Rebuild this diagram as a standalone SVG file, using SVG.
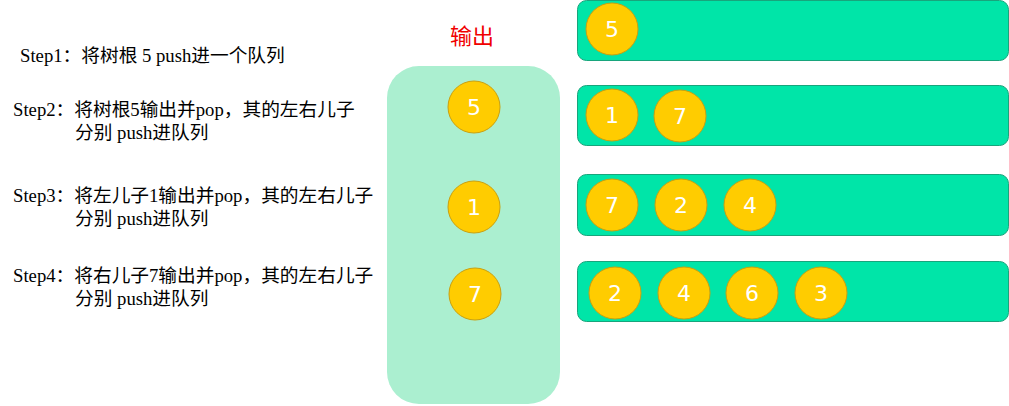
<svg xmlns="http://www.w3.org/2000/svg" width="1009" height="406" viewBox="0 0 1009 406">
<style>
.step{font-family:"Liberation Serif","Noto Sans CJK SC",serif;font-size:18.7px;fill:#000}
.title{font-family:"Noto Sans CJK SC",sans-serif;font-size:22px;fill:#f00000}
.queue{fill:#00e5a8;stroke:#18a57c;stroke-width:1}
.out{fill:#abefd0}
.ball{fill:#ffcc00;stroke:#c9a010;stroke-width:1}
.num{font-family:"DejaVu Sans",sans-serif;font-size:22px;fill:#fff;text-anchor:middle}
</style>
<rect width="1009" height="406" fill="#fff"/>
<g id="steps">
<text class="step" x="20" y="62">Step1：将树根 5 push进一个队列</text>
<text class="step" x="13" y="116">Step2：将树根5输出并pop，其的左右儿子</text>
<text class="step" x="75" y="139">分别 push进队列</text>
<text class="step" x="13" y="202">Step3：将左儿子1输出并pop，其的左右儿子</text>
<text class="step" x="75" y="225">分别 push进队列</text>
<text class="step" x="13" y="282">Step4：将右儿子7输出并pop，其的左右儿子</text>
<text class="step" x="75" y="305">分别 push进队列</text>
</g>
<g id="output">
<text class="title" x="472" y="44" text-anchor="middle">输出</text>
<rect class="out" x="387" y="66" width="173" height="338" rx="32" ry="32"/>
<g id="out5"><circle class="ball" cx="474" cy="107" r="26"/><text class="num" x="474" y="115">5</text></g>
<g id="out1"><circle class="ball" cx="474" cy="207" r="26"/><text class="num" x="474" y="215">1</text></g>
<g id="out7"><circle class="ball" cx="475" cy="294" r="26"/><text class="num" x="475" y="302">7</text></g>
</g>
<g id="queue1">
<rect class="queue" x="577.5" y="0.5" width="431" height="60" rx="9" ry="9"/>
<circle class="ball" cx="612" cy="29" r="26"/><text class="num" x="612" y="37">5</text>
</g>
<g id="queue2">
<rect class="queue" x="577.5" y="85.5" width="431" height="60" rx="9" ry="9"/>
<circle class="ball" cx="612" cy="115" r="26"/><text class="num" x="612" y="123">1</text>
<circle class="ball" cx="680" cy="116" r="26"/><text class="num" x="680" y="124">7</text>
</g>
<g id="queue3">
<rect class="queue" x="577.5" y="174.5" width="431" height="61" rx="9" ry="9"/>
<circle class="ball" cx="612" cy="205" r="26"/><text class="num" x="612" y="213">7</text>
<circle class="ball" cx="681" cy="205" r="26"/><text class="num" x="681" y="213">2</text>
<circle class="ball" cx="750" cy="205" r="26"/><text class="num" x="750" y="213">4</text>
</g>
<g id="queue4">
<rect class="queue" x="577.5" y="261.5" width="431" height="60" rx="9" ry="9"/>
<circle class="ball" cx="615" cy="293" r="26"/><text class="num" x="615" y="301">2</text>
<circle class="ball" cx="684" cy="293" r="26"/><text class="num" x="684" y="301">4</text>
<circle class="ball" cx="752" cy="293" r="26"/><text class="num" x="752" y="301">6</text>
<circle class="ball" cx="821" cy="293" r="26"/><text class="num" x="821" y="301">3</text>
</g>
<g id="connectors"/>
</svg>
